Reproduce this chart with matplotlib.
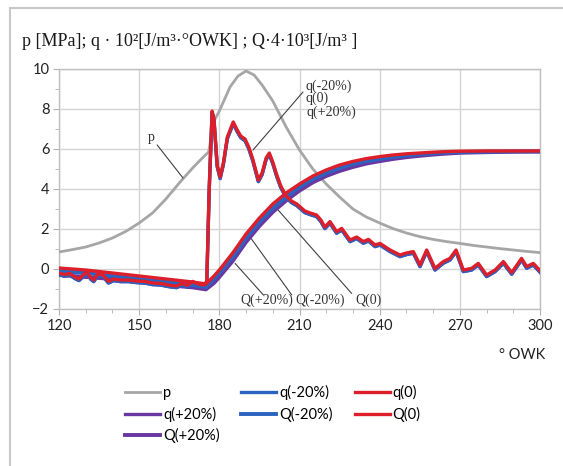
import matplotlib
matplotlib.use("Agg")
import matplotlib.pyplot as plt
from matplotlib.patches import Rectangle
from matplotlib.ticker import MultipleLocator

plt.rcParams.update({
    "font.family": ["Lato", "DejaVu Sans"],
    "font.size": 10.5,
})

# pressure p [MPa]
p_x = [120, 125, 130, 135, 140, 145, 150, 155, 160, 165, 170, 174, 176, 178, 180,
       184, 187, 190, 193, 196, 200, 205, 210, 215, 220, 225, 230, 235, 240, 245,
       250, 255, 260, 265, 270, 275, 280, 285, 290, 295, 300]
p_vals = [0.85, 0.97, 1.1, 1.3, 1.55, 1.88, 2.3, 2.8, 3.5, 4.3, 5.05, 5.6, 5.85, 7.4, 7.9,
          9.1, 9.65, 9.9, 9.7, 9.2, 8.4, 7.1, 5.95, 5.0, 4.25, 3.6, 3.0, 2.6, 2.3, 2.02,
          1.8, 1.62, 1.48, 1.37, 1.28, 1.18, 1.1, 1.02, 0.95, 0.88, 0.82]

# heat release rate q * 10^2
q_x = [120, 122, 124, 126, 127.5, 129, 130.5, 132, 133, 134.5, 136.5, 138.5, 140.5, 143,
       146, 149, 152, 155, 158, 161, 164, 166, 168, 170, 172, 174.3, 175.3, 176.2,
       177.3, 178, 179.2, 180.3, 181.5, 183, 185.2, 186.5, 188, 189.6, 191, 192.5,
       194.6, 196, 197.5, 198.7, 200, 201.5, 203, 205, 207, 209, 212, 214, 216.4, 218,
       219.5, 221.4, 223.9, 225.8, 228.9, 231.4, 233.9, 235.8, 238.3, 240.1, 243.9,
       247.6, 250, 252.6, 255.1, 257.6, 260.7, 263.8, 266.3, 268.6, 271.3, 274.4,
       276.9, 280, 283.2, 286.3, 289.4, 293.1, 295, 297.5, 300]
q_0 = [-0.2, -0.28, -0.22, -0.4, -0.5, -0.3, -0.15, -0.45, -0.55, -0.25, -0.3, -0.62,
       -0.5, -0.55, -0.55, -0.6, -0.62, -0.7, -0.72, -0.8, -0.85, -0.72, -0.82, -0.62,
       -0.75, -0.8, -0.6, 4.0, 7.9, 7.5, 5.2, 4.6, 5.3, 6.6, 7.35, 7.0, 6.65, 6.5, 6.1,
       5.5, 4.45, 4.8, 5.55, 5.8, 5.35, 4.7, 4.15, 3.65, 3.4, 3.25, 2.9, 2.8, 2.7, 2.45,
       2.1, 2.37, 1.87, 2.03, 1.45, 1.6, 1.37, 1.48, 1.2, 1.28, 0.95, 0.7, 0.8, 0.87,
       0.2, 0.95, 0.03, 0.37, 0.53, 0.95, -0.05, 0.03, 0.28, -0.3, -0.05, 0.37, -0.18,
       0.53, 0.12, 0.28, -0.08]
q_m20 = [-0.28, -0.36, -0.3, -0.48, -0.58, -0.38, -0.23, -0.53, -0.63, -0.33, -0.38,
         -0.7, -0.58, -0.63, -0.63, -0.68, -0.7, -0.78, -0.8, -0.88, -0.93, -0.8, -0.9,
         -0.7, -0.83, -0.88, -0.68, 3.9, 7.82, 7.42, 5.12, 4.52, 5.22, 6.52, 7.27, 6.92,
         6.57, 6.42, 6.02, 5.42, 4.37, 4.72, 5.47, 5.72, 5.27, 4.62, 4.07, 3.57, 3.32,
         3.17, 2.82, 2.72, 2.62, 2.37, 2.02, 2.29, 1.79, 1.95, 1.37, 1.52, 1.29, 1.4,
         1.12, 1.2, 0.87, 0.62, 0.72, 0.79, 0.12, 0.87, -0.05, 0.29, 0.45, 0.87, -0.13,
         -0.05, 0.2, -0.38, -0.13, 0.29, -0.26, 0.45, 0.04, 0.2, -0.16]
q_p20 = q_m20  # indistinguishable from q(-20%) in the picture

# cumulative heat Q * 4 * 10^3
Q_x = [120, 130, 140, 150, 160, 170, 175, 178, 180, 185, 190, 195, 200, 205, 210, 215,
       220, 225, 230, 235, 240, 245, 250, 255, 260, 265, 270, 280, 290, 300]
Q_0 = [0.05, -0.05, -0.2, -0.35, -0.5, -0.65, -0.75, -0.35, -0.05, 0.8, 1.75, 2.55,
       3.25, 3.8, 4.25, 4.65, 4.95, 5.2, 5.38, 5.52, 5.62, 5.7, 5.76, 5.8, 5.84, 5.87,
       5.89, 5.9, 5.9, 5.9]
Q_m20 = [-0.1, -0.2, -0.35, -0.5, -0.65, -0.8, -0.9, -0.5, -0.2, 0.6, 1.55, 2.35, 3.05,
         3.6, 4.1, 4.5, 4.8, 5.05, 5.25, 5.4, 5.5, 5.6, 5.68, 5.74, 5.79, 5.83, 5.85,
         5.87, 5.88, 5.88]
Q_p20 = [-0.3, -0.4, -0.5, -0.65, -0.8, -0.92, -1.02, -0.7, -0.4, 0.4, 1.35, 2.15, 2.85,
         3.42, 3.92, 4.33, 4.65, 4.9, 5.1, 5.27, 5.39, 5.5, 5.59, 5.66, 5.72, 5.77, 5.81,
         5.84, 5.86, 5.87]

gray = "#a6a6a6"
blue = "#2a64c0"
red = "#dc1f2a"
purple = "#6a37a2"
W, H = 563, 466

fig = plt.figure(figsize=(W / 100, H / 100), dpi=100)
fig.patches.append(Rectangle((10 / W, -0.1), 1.2, 1 - 8 / H + 0.1, transform=fig.transFigure,
                             fill=False, edgecolor="#c8c8c8", linewidth=1.5))
ax = fig.add_axes([59 / W, 1 - 309 / H, 481 / W, 240 / H])

lw = 2.4
h_p, = ax.plot(p_x, p_vals, color=gray, lw=2.0, label="p", zorder=3)
h_qp, = ax.plot(q_x, q_p20, color=purple, lw=lw, label="q(+20%)", zorder=4)
h_qm, = ax.plot(q_x, q_m20, color=blue, lw=lw, label="q(-20%)", zorder=5)
h_q0, = ax.plot(q_x, q_0, color=red, lw=lw, label="q(0)", zorder=6)
h_Qp, = ax.plot(Q_x, Q_p20, color=purple, lw=lw + 0.4, label="Q(+20%)", zorder=4)
h_Qm, = ax.plot(Q_x, Q_m20, color=blue, lw=lw + 0.4, label="Q(-20%)", zorder=5)
h_Q0, = ax.plot(Q_x, Q_0, color=red, lw=lw, label="Q(0)", zorder=6)

ax.set_xlim(120, 300)
ax.set_ylim(-2, 10)
ax.xaxis.set_major_locator(MultipleLocator(30))
ax.xaxis.set_minor_locator(MultipleLocator(10))
ax.yaxis.set_major_locator(MultipleLocator(2))
ax.yaxis.set_minor_locator(MultipleLocator(1))
ax.grid(True, which="major", color="#d4d4d4", lw=1.0, zorder=0)
for s in ax.spines.values():
    s.set_color("#c0c0c0")
    s.set_linewidth(1.0)
ax.tick_params(which="both", direction="out", color="#b0b0b0", labelcolor="#222222")
ax.tick_params(which="major", length=4, labelsize=10.5, pad=3)
ax.tick_params(which="minor", length=3)

# leader lines and series labels
serif = "Liberation Serif"
lead = dict(arrowstyle="-", color="#404040", lw=0.8, shrinkA=0, shrinkB=0)
ax.annotate("p", xy=(166.4, 4.55), xytext=(154.4, 6.6), fontsize=10, family=serif,
            color="#333333", va="center", ha="center", arrowprops=lead)
ax.annotate("", xy=(192.6, 5.95), xytext=(211.3, 8.85), arrowprops=lead)
ax.text(212.1, 9.15, "q(-20%)", fontsize=10, family=serif, color="#333333", va="center")
ax.text(212.1, 8.55, "q(0)", fontsize=10, family=serif, color="#333333", va="center")
ax.text(212.8, 7.85, "q(+20%)", fontsize=10, family=serif, color="#333333", va="center")
ax.annotate("", xy=(185.9, 0.28), xytext=(196.5, -1.3), arrowprops=lead)
ax.annotate("", xy=(191.5, 1.6), xytext=(207.1, -1.3), arrowprops=lead)
ax.annotate("", xy=(202.0, 2.95), xytext=(229.5, -1.22), arrowprops=lead)
ax.text(187.7, -1.55, "Q(+20%)", fontsize=10, family=serif, color="#333333", va="center")
ax.text(208.3, -1.55, "Q(-20%)", fontsize=10, family=serif, color="#333333", va="center")
ax.text(230.8, -1.55, "Q(0)", fontsize=10, family=serif, color="#333333", va="center")

fig.text(22 / W, 1 - 42 / H,
         "p [MPa]; q \u00b7 10\u00b2[J/m\u00b3\u00b7\u00b0OWK] ; Q\u00b74\u00b710\u00b3[J/m\u00b3 ]",
         family=serif, fontsize=13, color="#1a1a1a", va="center", ha="left")
fig.text(545 / W, 1 - 355 / H, "\u00b0 OWK", fontsize=10.5, color="#222222",
         va="center", ha="right")

handles = [h_p, h_qp, h_Qp, h_qm, h_Qm, h_q0, h_Q0]
fig.legend(handles=handles, labels=[h.get_label() for h in handles], ncol=3,
           loc="upper left", bbox_to_anchor=(125 / W, 1 - 385 / H), frameon=False,
           borderpad=0, borderaxespad=0, handlelength=2.4, handletextpad=0.2,
           columnspacing=1.5, labelspacing=0.45, fontsize=10.5)

fig.savefig("out.png", dpi=100)
